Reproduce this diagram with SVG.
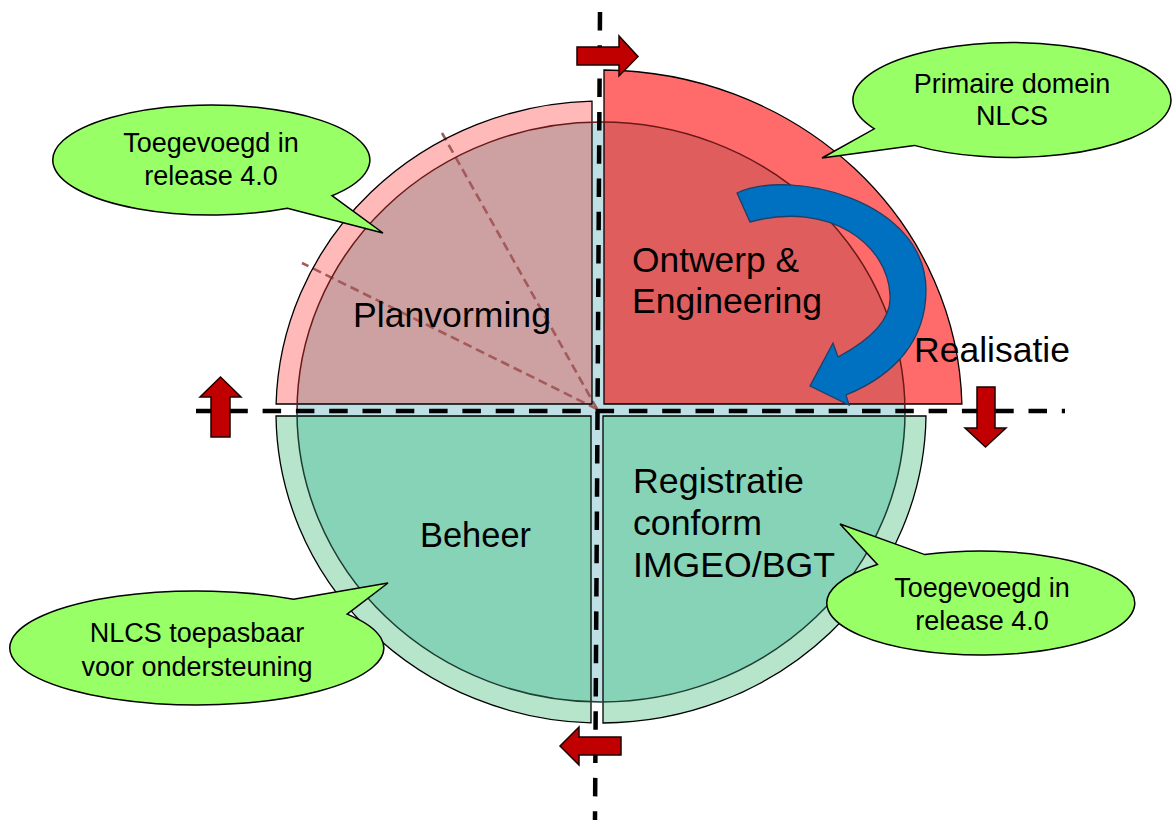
<svg xmlns="http://www.w3.org/2000/svg" width="1172" height="820" viewBox="0 0 1172 820">
  <style>
    text { font-family: "Liberation Sans", Arial, sans-serif; fill: #000; }
    .lbl { font-size: 35px; }
    .co { font-size: 27px; text-anchor: middle; }
    .edge { fill: none; stroke: #000; stroke-width: 1.3; stroke-linejoin: miter; }
    .bubble { fill: #99FF66; stroke: #000; stroke-width: 1.5; stroke-linejoin: miter; }
    .axis { stroke: #000; stroke-width: 4.5; stroke-dasharray: 18.5 14.8; fill: none; }
    .redarrow { fill: #C00000; stroke: #1a0000; stroke-width: 1.5; stroke-linejoin: miter; }
    .radial { stroke: #A35A5A; stroke-width: 2.6; stroke-dasharray: 9 5; fill: none; }
  </style>
  <rect width="1172" height="820" fill="#FFFFFF"/>

  <!-- base inner disc (visible in the cross strip) -->
  <ellipse id="core" cx="601" cy="412" rx="304" ry="290" fill="#BEE0E5"/>

  <g id="quadrant-planvorming">
    <path d="M592,404 L276.1,404 A325,311 0 0 1 592,101.1 Z" fill="#FFB9B9"/>
    <path d="M592,404 L297.1,404 A304,290 0 0 1 592,122.1 Z" fill="#CDA0A1"/>
    <line class="radial" x1="597" y1="409" x2="302" y2="263"/>
    <line class="radial" x1="597" y1="409" x2="442" y2="133"/>
    <path class="edge" d="M592,404 L276.1,404 A325,311 0 0 1 592,101.1 Z"/>
    <text class="lbl" x="353" y="327" textLength="198" lengthAdjust="spacingAndGlyphs">Planvorming</text>
  </g>

  <g id="quadrant-ontwerp">
    <path d="M604,404 L604,70 A361,342 0 0 1 961.9,404 Z" fill="#FF6B6B"/>
    <path d="M604,404 L604,122 A304,290 0 0 1 904.9,404 Z" fill="#E05D5E"/>
    <path class="edge" d="M604,404 L604,70 A361,342 0 0 1 961.9,404 Z"/>
  </g>

  <g id="quadrant-beheer">
    <path d="M591,416 L591,722.9 A325,311 0 0 1 276,416 Z" fill="#B7E5CB"/>
    <path d="M591,416 L591,701.8 A304,290 0 0 1 297,416 Z" fill="#87D3B7"/>
    <path class="edge" d="M591,416 L591,722.9 A325,311 0 0 1 276,416 Z"/>
  </g>

  <g id="quadrant-registratie">
    <path d="M603,416 L926,416 A325,311 0 0 1 603,723 Z" fill="#B7E5CB"/>
    <path d="M603,416 L905,416 A304,290 0 0 1 603,702 Z" fill="#87D3B7"/>
    <path class="edge" d="M603,416 L926,416 A325,311 0 0 1 603,723 Z"/>
  </g>

  <g id="core-outline">
    <path d="M297,412 A304,290 0 0 1 905,412" fill="none" stroke="#6A1818" stroke-width="1.5"/>
    <path d="M905,412 A304,290 0 0 1 297,412" fill="none" stroke="#1E3D33" stroke-width="1.5"/>
  </g>

  <g id="labels">
    <text class="lbl" x="632" y="272" textLength="167" lengthAdjust="spacingAndGlyphs">Ontwerp &amp;</text>
    <text class="lbl" x="632" y="313" textLength="190" lengthAdjust="spacingAndGlyphs">Engineering</text>
    <text class="lbl" x="420" y="547" textLength="111" lengthAdjust="spacingAndGlyphs">Beheer</text>
    <text class="lbl" x="633" y="493" textLength="171" lengthAdjust="spacingAndGlyphs">Registratie</text>
    <text class="lbl" x="633" y="535" textLength="129" lengthAdjust="spacingAndGlyphs">conform</text>
    <text class="lbl" x="633" y="577" textLength="202" lengthAdjust="spacingAndGlyphs">IMGEO/BGT</text>
  </g>

  <g id="label-realisatie">
    <text class="lbl" x="914" y="362" textLength="156" lengthAdjust="spacingAndGlyphs">Realisatie</text>
  </g>

  <g id="connectors">
    <line class="axis" x1="600" y1="12" x2="595" y2="820"/>
    <line class="axis" x1="196" y1="411" x2="1065" y2="411"/>
    <polygon class="redarrow" points="577,47 619,47 619,36 638,56.5 619,76 619,65 577,65"/>
    <polygon class="redarrow" points="220.5,377 241,397 230,397 230,437 211,437 211,397 200,397"/>
    <polygon class="redarrow" points="977,387 995,387 995,428 1006,428 985.5,447 965,428 977,428"/>
    <polygon class="redarrow" points="560,746 579,727 579,737 621,737 621,755 579,755 579,765"/>
    <path id="cycle-arrow" d="M737,193 C790,168 926,200 926,290 C926,340 895,375 846,395 L849,405 L810,386 L833,343 L838,357 C870,340 892,320 890,295 C888,245 830,200 750,222 Z" fill="#0070C0" stroke="#1F3F66" stroke-width="1.3" stroke-linejoin="miter"/>
  </g>

  <g id="callout-planvorming">
    <path class="bubble" d="M287.4,208.3 A158.5,55 0 1 1 332,195.7 L383,233 Z"/>
    <text class="co" x="211" y="152">Toegevoegd in</text>
    <text class="co" x="211" y="185">release 4.0</text>
  </g>

  <g id="callout-primair">
    <path class="bubble" d="M874.3,128.8 A159,57.5 0 1 1 914.3,145.4 L822,158 Z"/>
    <text class="co" x="1012" y="93">Primaire domein</text>
    <text class="co" x="1012" y="125">NLCS</text>
  </g>

  <g id="callout-registratie">
    <path class="bubble" d="M924.8,554.6 A154,52 0 1 1 877.4,564.5 L840,524 Z"/>
    <text class="co" x="982" y="597">Toegevoegd in</text>
    <text class="co" x="982" y="630">release 4.0</text>
  </g>

  <g id="callout-beheer">
    <path class="bubble" d="M347.2,614.1 A187,57 0 1 1 293.6,599.2 L388,583 Z"/>
    <text class="co" x="197" y="642">NLCS toepasbaar</text>
    <text class="co" x="197" y="676">voor ondersteuning</text>
  </g>
</svg>
